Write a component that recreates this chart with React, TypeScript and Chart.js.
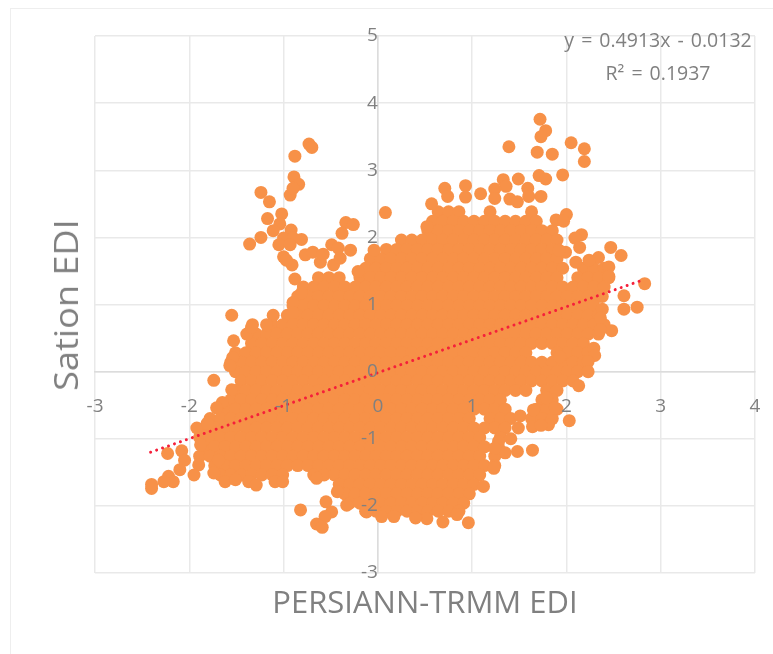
import React, { useEffect, useRef } from "react";
import { Chart, registerables } from "chart.js";

Chart.register(...registerables);

const equationLine = "y = 0.4913x - 0.0132";
const rSquaredLine = "R² = 0.1937";
const xAxisTitle = "PERSIANN-TRMM EDI";
const yAxisTitle = "Sation EDI";

const trendX = [-2.41, 2.8];
const trendY = [-1.2, 1.36];

const rowY = [2.38, 2.24, 2.1, 1.96, 1.82, 1.68, 1.54, 1.4, 1.26, 1.12, 0.98, 0.84, 0.7, 0.56, 0.42, 0.28, 0.14, 0, -0.14, -0.28, -0.42, -0.56, -0.7, -0.84, -0.98, -1.12, -1.26, -1.4, -1.54, -1.68, -1.82, -1.96, -2.08];

const rowX = [
  [0.64,0.75,0.86,1.19,1.63],
  [0.58,0.69,0.8,0.91,1.02,1.13,1.24,1.35,1.46,1.57,1.68],
  [0.53,0.64,0.75,0.86,0.97,1.08,1.19,1.3,1.41,1.52,1.63,1.74,1.85],
  [0.25,0.36,0.47,0.58,0.69,0.8,0.91,1.02,1.13,1.24,1.35,1.46,1.57,1.68,1.79,1.9],
  [0.09,0.2,0.31,0.42,0.53,0.64,0.75,0.86,0.97,1.08,1.19,1.3,1.41,1.52,1.63,1.74,1.85],
  [-0.08,0.03,0.14,0.25,0.36,0.47,0.58,0.69,0.8,0.91,1.02,1.13,1.24,1.35,1.46,1.57,1.68,1.79,1.9],
  [-0.13,-0.02,0.09,0.2,0.31,0.42,0.53,0.64,0.75,0.86,0.97,1.08,1.19,1.3,1.41,1.52,1.63,1.74,1.85,1.96,2.18,2.29,2.4],
  [-0.63,-0.52,-0.41,-0.19,-0.08,0.03,0.14,0.25,0.36,0.47,0.58,0.69,0.8,0.91,1.02,1.13,1.24,1.35,1.46,1.57,1.68,1.79,1.9,2.12,2.23,2.34,2.45],
  [-0.79,-0.68,-0.57,-0.46,-0.35,-0.24,-0.13,-0.02,0.09,0.2,0.31,0.42,0.53,0.64,0.75,0.86,0.97,1.08,1.19,1.3,1.41,1.52,1.63,1.74,1.85,1.96,2.07,2.18,2.29,2.4],
  [-0.85,-0.74,-0.63,-0.52,-0.41,-0.3,-0.19,-0.08,0.03,0.14,0.25,0.36,0.47,0.58,0.69,0.8,0.91,1.02,1.13,1.24,1.35,1.46,1.57,1.68,1.79,1.9,2.01,2.12,2.23,2.34],
  [-0.9,-0.79,-0.68,-0.57,-0.46,-0.35,-0.24,-0.13,-0.02,0.09,0.2,0.31,0.42,0.53,0.64,0.75,0.86,0.97,1.08,1.19,1.3,1.41,1.52,1.63,1.74,1.85,1.96,2.07,2.18,2.29],
  [-0.96,-0.85,-0.74,-0.63,-0.52,-0.41,-0.3,-0.19,-0.08,0.03,0.14,0.25,0.36,0.47,0.58,0.69,0.8,0.91,1.02,1.13,1.24,1.35,1.46,1.57,1.68,1.79,1.9,2.01,2.12,2.23,2.34],
  [-1.12,-1.01,-0.9,-0.79,-0.68,-0.57,-0.46,-0.35,-0.24,-0.13,-0.02,0.09,0.2,0.31,0.42,0.53,0.64,0.75,0.86,0.97,1.08,1.19,1.3,1.41,1.52,1.63,1.74,1.85,1.96,2.07,2.18,2.29,2.4],
  [-1.29,-1.18,-1.07,-0.96,-0.85,-0.74,-0.63,-0.52,-0.41,-0.3,-0.19,-0.08,0.03,0.14,0.25,0.36,0.47,0.58,0.69,0.8,0.91,1.02,1.13,1.24,1.35,1.46,1.57,1.68,1.79,1.9,2.01,2.12,2.23,2.34],
  [-1.34,-1.23,-1.12,-1.01,-0.9,-0.79,-0.68,-0.57,-0.46,-0.35,-0.24,-0.13,-0.02,0.09,0.2,0.31,0.42,0.53,0.64,0.75,0.86,0.97,1.08,1.19,1.3,1.41,1.52,1.63,1.74,1.85,1.96,2.07,2.18],
  [-1.51,-1.4,-1.29,-1.18,-1.07,-0.96,-0.85,-0.74,-0.63,-0.52,-0.41,-0.3,-0.19,-0.08,0.03,0.14,0.25,0.36,0.47,0.58,0.69,0.8,0.91,1.02,1.13,1.24,1.35,1.46,1.57,1.9,2.01,2.12,2.23],
  [-1.56,-1.45,-1.34,-1.23,-1.12,-1.01,-0.9,-0.79,-0.68,-0.57,-0.46,-0.35,-0.24,-0.13,-0.02,0.09,0.2,0.31,0.42,0.53,0.64,0.75,0.86,0.97,1.08,1.19,1.3,1.41,1.52,1.63,1.74,1.85,1.96,2.07,2.18],
  [-1.51,-1.4,-1.29,-1.18,-1.07,-0.96,-0.85,-0.74,-0.63,-0.52,-0.41,-0.3,-0.19,-0.08,0.03,0.14,0.25,0.36,0.47,0.58,0.69,0.8,0.91,1.02,1.13,1.24,1.35,1.46,1.57,1.68,1.79,1.9,2.01,2.12],
  [-1.45,-1.34,-1.23,-1.12,-1.01,-0.9,-0.79,-0.68,-0.57,-0.46,-0.35,-0.24,-0.13,-0.02,0.09,0.2,0.31,0.42,0.53,0.64,0.75,0.86,0.97,1.08,1.19,1.3,1.41,1.52,1.63,1.74,1.85,1.96,2.07],
  [-1.51,-1.4,-1.29,-1.18,-1.07,-0.96,-0.85,-0.74,-0.63,-0.52,-0.41,-0.3,-0.19,-0.08,0.03,0.14,0.25,0.36,0.47,0.58,0.69,0.8,0.91,1.02,1.13,1.24,1.35,1.46,1.57,1.79,1.9],
  [-1.56,-1.45,-1.34,-1.23,-1.12,-1.01,-0.9,-0.79,-0.68,-0.57,-0.46,-0.35,-0.24,-0.13,-0.02,0.09,0.2,0.31,0.42,0.53,0.64,0.75,0.86,0.97,1.08,1.19,1.3,1.74,1.85],
  [-1.62,-1.51,-1.4,-1.29,-1.18,-1.07,-0.96,-0.85,-0.74,-0.63,-0.52,-0.41,-0.3,-0.19,-0.08,0.03,0.14,0.25,0.36,0.47,0.58,0.69,0.8,0.91,1.02,1.13,1.24,1.35,1.68,1.79,1.9],
  [-1.78,-1.67,-1.56,-1.45,-1.34,-1.23,-1.12,-1.01,-0.9,-0.79,-0.68,-0.57,-0.46,-0.35,-0.24,-0.13,-0.02,0.09,0.2,0.31,0.42,0.53,0.64,0.75,0.86,0.97,1.19,1.3,1.41,1.63,1.74,1.85],
  [-1.84,-1.73,-1.62,-1.51,-1.4,-1.29,-1.18,-1.07,-0.96,-0.85,-0.74,-0.63,-0.52,-0.41,-0.3,-0.19,-0.08,0.03,0.14,0.25,0.36,0.47,0.58,0.69,0.8,0.91,1.02,1.13,1.24,1.35],
  [-1.89,-1.78,-1.67,-1.56,-1.45,-1.34,-1.23,-1.12,-1.01,-0.9,-0.79,-0.68,-0.57,-0.46,-0.35,-0.24,-0.13,-0.02,0.09,0.2,0.31,0.42,0.53,0.64,0.75,0.86,0.97,1.08,1.3],
  [-1.84,-1.73,-1.62,-1.51,-1.4,-1.29,-1.18,-1.07,-0.96,-0.85,-0.74,-0.63,-0.52,-0.41,-0.3,-0.19,-0.08,0.03,0.14,0.25,0.36,0.47,0.58,0.69,0.8,0.91,1.02,1.13,1.28],
  [-1.89,-1.78,-1.67,-1.56,-1.45,-1.34,-1.23,-1.12,-1.01,-0.9,-0.79,-0.68,-0.57,-0.46,-0.35,-0.24,-0.13,-0.02,0.09,0.2,0.31,0.42,0.53,0.64,0.75,0.86,0.97,1.08,1.24],
  [-1.73,-1.62,-1.51,-1.4,-1.29,-1.18,-1.07,-0.96,-0.85,-0.74,-0.63,-0.52,-0.41,-0.3,-0.19,-0.08,0.03,0.14,0.25,0.36,0.47,0.58,0.69,0.8,0.91,1.02,1.13,1.24],
  [-1.67,-1.56,-1.45,-1.34,-1.23,-1.12,-1.01,-0.68,-0.57,-0.46,-0.35,-0.24,-0.13,-0.02,0.09,0.2,0.31,0.42,0.53,0.64,0.75,0.86,0.97,1.08],
  [-0.41,-0.3,-0.19,-0.08,0.03,0.14,0.25,0.36,0.47,0.58,0.69,0.8,0.91,1.02],
  [-0.35,-0.24,-0.13,-0.02,0.09,0.2,0.31,0.42,0.53,0.64,0.75,0.86,0.97],
  [-0.3,-0.19,-0.08,0.03,0.14,0.25,0.36,0.47,0.58,0.69,0.8,0.91],
  [-0.13,-0.02,0.09,0.2,0.31,0.42,0.53,0.64,0.75,0.86],
];

const edgeX = [-0.73,-0.7,-0.88,-0.89,-0.84,-0.93,-0.9,-1.24,-1.15,-1.02,-1.17,-1.04,-1.11,-1.24,-1.36,-0.92,-1,-0.9,-0.81,-1.05,-0.93,-1,-0.91,-0.97,-0.77,-0.69,-0.61,-0.58,-0.49,-0.47,-0.4,-0.42,-0.29,-0.34,-0.26,-0.38,-0.88,-0.81,-0.9,-0.9,-1.11,-1.55,-1.33,-1.18,0.08,-0.04,-0.21,1.72,1.78,1.73,1.39,1.69,1.85,2.05,2.19,2.19,1.71,1.78,1.96,1.33,1.49,1.36,1.24,1.59,0.93,0.71,0.74,1.09,0.93,1.73,1.4,1.48,1.6,1.24,0.57,2,1.89,1.97,2.16,2.09,2.14,2.47,2.58,2.34,2.24,2.45,2.45,2.1,1.99,1.92,2.83,2.61,2.61,2.75,2.38,2.38,2.36,2.48,2.36,2.29,2.3,2.23,2.23,2.13,1.93,2.03,1.81,1.64,1.51,1.65,1.79,1.88,1.64,1.48,1.35,1.23,1.12,0.96,0.84,0.69,0.52,0.4,1.49,1.41,1.28,0.17,1.73,1.24,-1.53,-1.39,-1.34,-1.54,-1.57,-1.74,-1.55,-1.65,-1.71,-1.92,-1.81,-1.88,-2.23,-2.08,-2.05,-2.1,-2.22,-2.17,-2.27,-2.4,-2.4,-1.9,-1.95,-1.74,-1.62,-1.51,-1.37,-1.29,-1.09,-1.01,-0.82,-0.55,-0.49,-0.56,-0.65,-0.59,-1.69,-0.65,-0.43,-0.33,-0.12,0.04,0.52];
const edgeY = [3.39,3.34,3.21,2.9,2.79,2.63,2.73,2.67,2.53,2.35,2.28,2.2,2.1,2,1.9,2.11,1.99,1.99,1.97,1.89,1.89,1.71,1.59,1.66,1.74,1.78,1.63,1.75,1.89,1.59,1.69,1.84,1.81,2.22,2.19,2.06,1.38,1.17,1.03,0.88,0.84,0.84,0.7,0.7,2.37,1.81,1.49,3.76,3.59,3.5,3.35,3.27,3.24,3.41,3.32,3.13,2.92,2.87,2.93,2.86,2.87,2.76,2.72,2.73,2.77,2.73,2.61,2.65,2.6,2.61,2.57,2.53,2.61,2.58,2.5,2.34,2.26,2.24,2.04,1.99,1.85,1.85,1.73,1.7,1.66,1.56,1.42,1.63,1.78,1.81,1.31,1.13,0.93,0.96,1.12,0.93,0.8,0.61,0.62,0.35,0.24,0.15,0,-0.21,0.22,-0.73,-0.79,-0.82,-0.66,-0.57,-0.39,-0.54,-1.17,-1.19,-1.21,-1.44,-1.71,-2.25,-2.13,-2.24,-2.19,-2.18,-0.84,-1,-1.04,-2.16,-0.8,-1.14,0.46,0.56,0.66,0.21,0.09,-0.13,-0.27,-0.46,-0.54,-0.84,-0.77,-1.09,-1.22,-1.18,-1.32,-1.46,-1.56,-1.64,-1.64,-1.74,-1.68,-1.39,-1.54,-1.51,-1.64,-1.61,-1.64,-1.69,-1.64,-1.64,-2.06,-1.94,-2.09,-2.16,-2.27,-2.32,-1.32,-1.59,-1.79,-1.99,-2.09,-2.16,2.16];

const scatterPoints = [
  ...rowY.flatMap((y, i) => rowX[i].map((x) => ({ x, y }))),
  ...edgeX.map((x, i) => ({ x, y: edgeY[i] })),
];

const GRAY = "#808080";
const FONT = "'Open Sans', 'Noto Sans', sans-serif";

export default function App() {
  const ref = useRef<HTMLCanvasElement>(null);
  useEffect(() => {
    const chart = new Chart(ref.current!, {
      type: "scatter",
      data: {
        datasets: [
          {
            type: "line",
            data: trendX.map((x, i) => ({ x, y: trendY[i] })),
            borderColor: "#f5203a",
            borderWidth: 3,
            borderDash: [0.01, 6.3],
            borderCapStyle: "round",
            pointRadius: 0,
            fill: false,
            tension: 0,
          },
          {
            data: scatterPoints,
            backgroundColor: "#f79148",
            borderWidth: 0,
            pointRadius: 6.5,
          },
        ],
      } as any,
      options: {
        animation: false,
        responsive: false,
        events: [],
        layout: { padding: { top: 36, right: 18, bottom: 0, left: 95 } },
        plugins: { legend: { display: false }, tooltip: { enabled: false } },
        scales: {
          x: {
            type: "linear",
            position: { y: 0 } as any,
            min: -3,
            max: 4,
            grid: { color: "#e9e9e9", lineWidth: 1.5, drawTicks: true, tickLength: 24, tickColor: "rgba(0,0,0,0)" },
            border: { color: "#dcdcdc", width: 1.5 },
            ticks: { stepSize: 1, padding: 0, z: 1, color: GRAY, font: { family: FONT, size: 19, weight: "400" } },
          },
          y: {
            type: "linear",
            position: { x: 0 } as any,
            min: -3,
            max: 5,
            grid: { color: "#e9e9e9", lineWidth: 1.5, drawTicks: true, tickLength: 20, tickColor: "rgba(0,0,0,0)" },
            border: { color: "#dcdcdc", width: 1.5 },
            ticks: { stepSize: 1, padding: 0, z: 1, color: GRAY, font: { family: FONT, size: 19, weight: "400" } },
          },
          xTitle: {
            type: "linear",
            position: "bottom",
            min: -3,
            max: 4,
            grid: { display: false, drawTicks: false },
            border: { display: false },
            ticks: { display: false },
            title: { display: true, text: xAxisTitle, color: GRAY, font: { family: FONT, size: 31, weight: "400" }, padding: { top: 12.8, bottom: 31 } },
          },
        },
      } as any,
    });
    return () => chart.destroy();
  }, []);

  const eqStyle: React.CSSProperties = {
    position: "absolute",
    color: GRAY,
    fontFamily: FONT,
    fontWeight: 400,
    fontSize: 19.5,
    lineHeight: "24px",
    whiteSpace: "pre",
    wordSpacing: 2,
    transform: "translateX(-50%)",
  };

  return (
    <div style={{ position: "fixed", left: 0, top: 0, width: 773, height: 654, overflow: "hidden", background: "#fff" }}>
      <div style={{ position: "absolute", left: 10, top: 8, width: 800, height: 700, border: "1.5px solid #eeeeee" }} />
      <canvas ref={ref} width={773} height={654} style={{ position: "absolute", left: 0, top: 0, width: 773, height: 654 }} />
      <div style={{ ...eqStyle, left: 658, top: 28 }}>{equationLine}</div>
      <div style={{ ...eqStyle, left: 658, top: 61 }}>{rSquaredLine}</div>
      <div
        style={{
          position: "absolute",
          left: 66,
          top: 305,
          color: GRAY,
          fontFamily: FONT,
          fontSize: 32,
          lineHeight: "40px",
          whiteSpace: "pre",
          transform: "translate(-50%, -50%) rotate(-90deg) scaleX(1.13)",
        }}
      >
        {yAxisTitle}
      </div>
    </div>
  );
}
